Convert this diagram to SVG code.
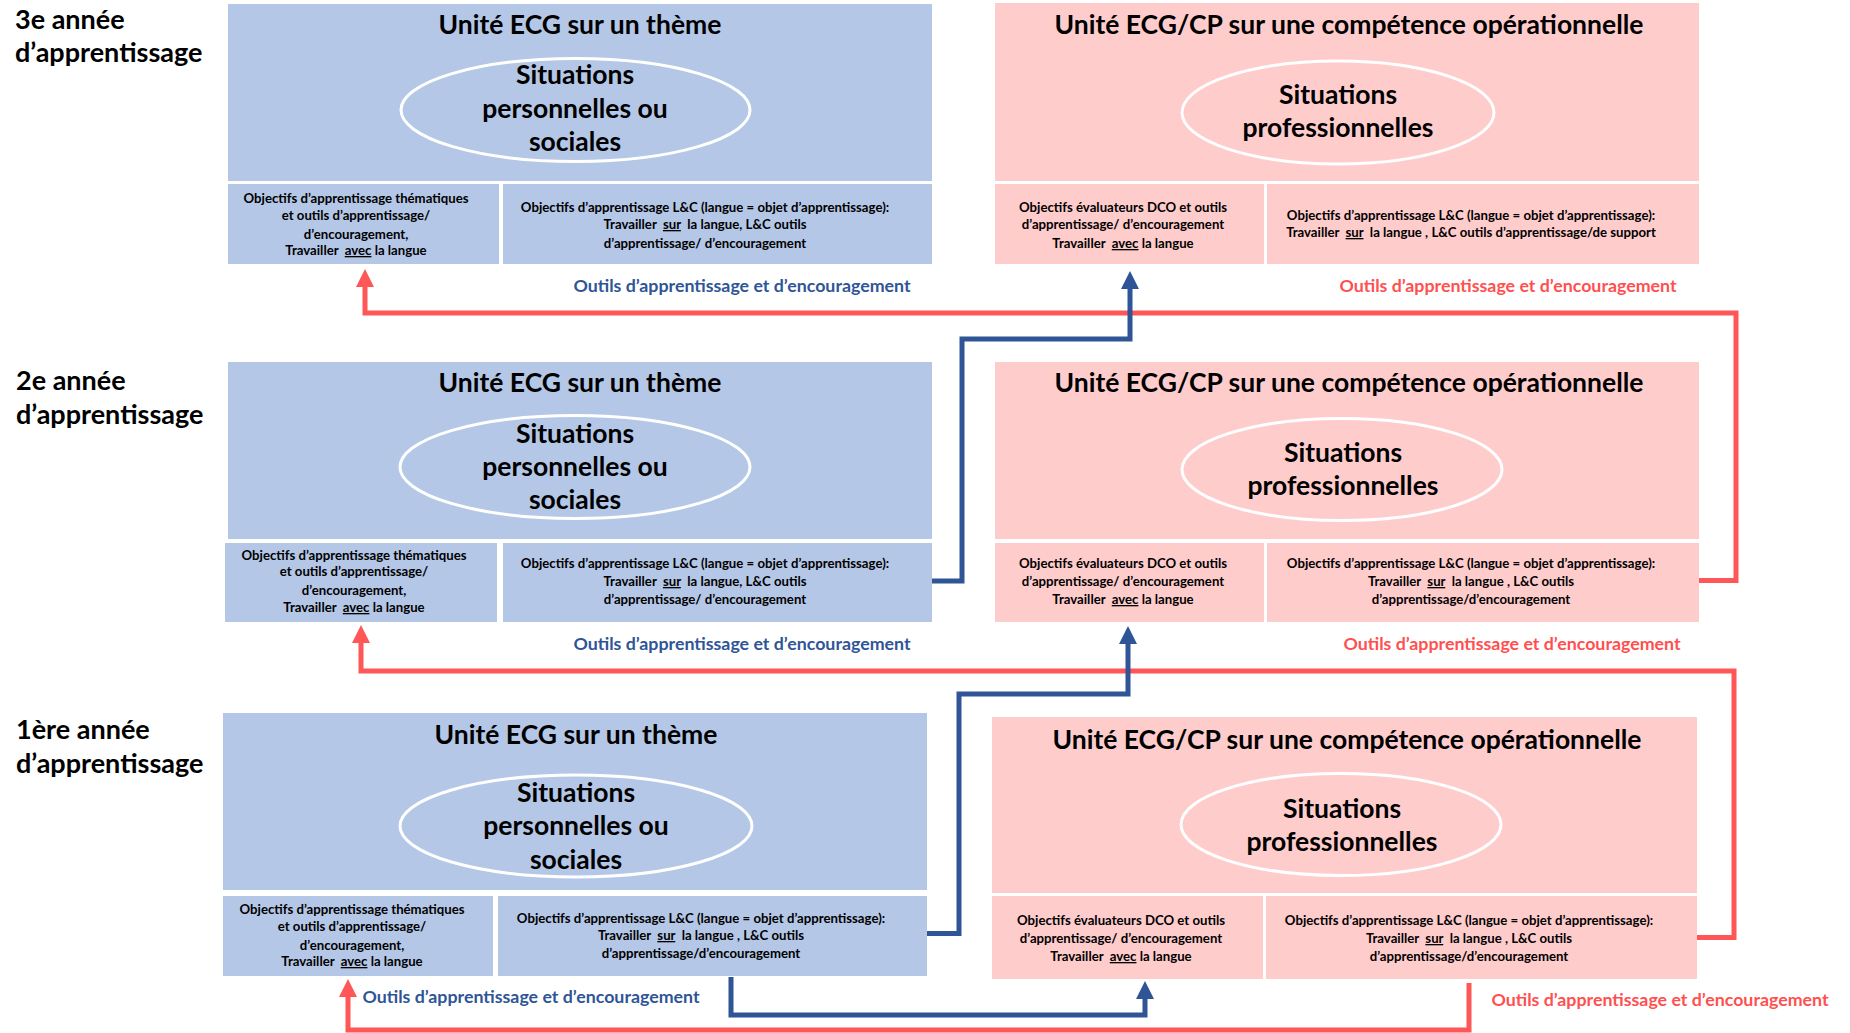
<svg xmlns="http://www.w3.org/2000/svg" width="1850" height="1033" viewBox="0 0 1850 1033">
<defs>
<style>
.bg{fill:#ffffff}
.b{fill:#b4c7e7}
.p{fill:#ffcccc}
.el{fill:none;stroke:#ffffff;stroke-width:3}
text{font-family:Lato,"Liberation Sans",sans-serif;font-weight:700;fill:#000}
.lab{font-size:27px}
.tt{font-size:26.5px;text-anchor:middle}
.et{font-size:26.5px;text-anchor:middle}
.sm{font-size:13.2px;text-anchor:middle;white-space:pre}
.ob{font-size:17.8px;text-anchor:middle;fill:#2f5597}
.or{font-size:17.8px;text-anchor:middle;fill:#ff5050}
.u{text-decoration:underline}
.cb{fill:none;stroke:#2f5597;stroke-width:5}
.cr{fill:none;stroke:#ff5757;stroke-width:5}
</style>
<marker id="ab" markerUnits="userSpaceOnUse" markerWidth="18" markerHeight="18" viewBox="0 0 17 17" refX="1" refY="8.5" orient="auto"><path d="M0,0 L17,8.5 L0,17 z" fill="#2f5597"/></marker>
<marker id="ar" markerUnits="userSpaceOnUse" markerWidth="18" markerHeight="18" viewBox="0 0 17 17" refX="1" refY="8.5" orient="auto"><path d="M0,0 L17,8.5 L0,17 z" fill="#ff5757"/></marker>
</defs>
<rect class="bg" x="0" y="0" width="1850" height="1033"/>

<g id="labels">
<text class="lab" x="15" y="29">3e année</text>
<text class="lab" x="15" y="62">d’apprentissage</text>
<text class="lab" x="16" y="390">2e année</text>
<text class="lab" x="16" y="424">d’apprentissage</text>
<text class="lab" x="16" y="739">1ère année</text>
<text class="lab" x="16" y="773">d’apprentissage</text>
</g>

<!-- Row 3 -->
<g id="ecg3">
<rect class="b" x="228" y="4" width="704" height="177"/>
<text class="tt" x="580" y="34">Unité ECG sur un thème</text>
<ellipse class="el" cx="575.5" cy="110" rx="174.5" ry="51.5"/>
<text class="et" x="575" y="84">Situations</text>
<text class="et" x="575" y="118">personnelles ou</text>
<text class="et" x="575" y="151">sociales</text>
</g>
<g id="ecg3-them">
<rect class="b" x="228" y="184" width="271" height="80"/>
<text class="sm" x="356" y="203">Objectifs d’apprentissage thématiques</text>
<text class="sm" x="356" y="220">et outils d’apprentissage/</text>
<text class="sm" x="356" y="239">d’encouragement,</text>
<text class="sm" x="356" y="255">Travailler  <tspan class="u">avec</tspan> la langue</text>
</g>
<g id="ecg3-lc">
<rect class="b" x="503" y="184" width="429" height="80"/>
<text class="sm" x="705" y="212">Objectifs d’apprentissage L&amp;C (langue = objet d’apprentissage):</text>
<text class="sm" x="705" y="229">Travailler  <tspan class="u">sur</tspan>  la langue, L&amp;C outils</text>
<text class="sm" x="705" y="248">d’apprentissage/ d’encouragement</text>
</g>
<g id="cp3">
<rect class="p" x="995" y="3" width="704" height="178"/>
<text class="tt" x="1349" y="34">Unité ECG/CP sur une compétence opérationnelle</text>
<ellipse class="el" cx="1338" cy="112.5" rx="156" ry="51.5"/>
<text class="et" x="1338" y="104">Situations</text>
<text class="et" x="1338" y="137">professionnelles</text>
</g>
<g id="cp3-dco">
<rect class="p" x="995" y="184" width="269" height="80"/>
<text class="sm" x="1123" y="212">Objectifs évaluateurs DCO et outils</text>
<text class="sm" x="1123" y="229">d’apprentissage/ d’encouragement</text>
<text class="sm" x="1123" y="248">Travailler  <tspan class="u">avec</tspan> la langue</text>
</g>
<g id="cp3-lc">
<rect class="p" x="1267" y="184" width="432" height="80"/>
<text class="sm" x="1471" y="220">Objectifs d’apprentissage L&amp;C (langue = objet d’apprentissage):</text>
<text class="sm" x="1471" y="237">Travailler  <tspan class="u">sur</tspan>  la langue , L&amp;C outils d’apprentissage/de support</text>
</g>
<g id="tools3">
<text class="ob" x="742" y="292">Outils d’apprentissage et d’encouragement</text>
<text class="or" x="1508" y="292">Outils d’apprentissage et d’encouragement</text>
</g>

<!-- Row 2 -->
<g id="ecg2">
<rect class="b" x="228" y="362" width="704" height="177"/>
<text class="tt" x="580" y="392">Unité ECG sur un thème</text>
<ellipse class="el" cx="575" cy="467" rx="175" ry="51.5"/>
<text class="et" x="575" y="443">Situations</text>
<text class="et" x="575" y="476">personnelles ou</text>
<text class="et" x="575" y="509">sociales</text>
</g>
<g id="ecg2-them">
<rect class="b" x="225" y="543" width="272" height="79"/>
<text class="sm" x="354" y="560">Objectifs d’apprentissage thématiques</text>
<text class="sm" x="354" y="576">et outils d’apprentissage/</text>
<text class="sm" x="354" y="595">d’encouragement,</text>
<text class="sm" x="354" y="612">Travailler  <tspan class="u">avec</tspan> la langue</text>
</g>
<g id="ecg2-lc">
<rect class="b" x="503" y="543" width="429" height="79"/>
<text class="sm" x="705" y="568">Objectifs d’apprentissage L&amp;C (langue = objet d’apprentissage):</text>
<text class="sm" x="705" y="586">Travailler  <tspan class="u">sur</tspan>  la langue, L&amp;C outils</text>
<text class="sm" x="705" y="604">d’apprentissage/ d’encouragement</text>
</g>
<g id="cp2">
<rect class="p" x="995" y="362" width="704" height="177"/>
<text class="tt" x="1349" y="392">Unité ECG/CP sur une compétence opérationnelle</text>
<ellipse class="el" cx="1342" cy="469.5" rx="160" ry="51"/>
<text class="et" x="1343" y="462">Situations</text>
<text class="et" x="1343" y="495">professionnelles</text>
</g>
<g id="cp2-dco">
<rect class="p" x="995" y="543" width="269" height="79"/>
<text class="sm" x="1123" y="568">Objectifs évaluateurs DCO et outils</text>
<text class="sm" x="1123" y="586">d’apprentissage/ d’encouragement</text>
<text class="sm" x="1123" y="604">Travailler  <tspan class="u">avec</tspan> la langue</text>
</g>
<g id="cp2-lc">
<rect class="p" x="1267" y="543" width="432" height="79"/>
<text class="sm" x="1471" y="568">Objectifs d’apprentissage L&amp;C (langue = objet d’apprentissage):</text>
<text class="sm" x="1471" y="586">Travailler  <tspan class="u">sur</tspan>  la langue , L&amp;C outils</text>
<text class="sm" x="1471" y="604">d’apprentissage/d’encouragement</text>
</g>
<g id="tools2">
<text class="ob" x="742" y="650">Outils d’apprentissage et d’encouragement</text>
<text class="or" x="1512" y="650">Outils d’apprentissage et d’encouragement</text>
</g>

<!-- Row 1 -->
<g id="ecg1">
<rect class="b" x="223" y="713" width="704" height="177"/>
<text class="tt" x="576" y="744">Unité ECG sur un thème</text>
<ellipse class="el" cx="576" cy="826" rx="176" ry="51"/>
<text class="et" x="576" y="802">Situations</text>
<text class="et" x="576" y="835">personnelles ou</text>
<text class="et" x="576" y="869">sociales</text>
</g>
<g id="ecg1-them">
<rect class="b" x="223" y="896" width="270" height="80"/>
<text class="sm" x="352" y="914">Objectifs d’apprentissage thématiques</text>
<text class="sm" x="352" y="931">et outils d’apprentissage/</text>
<text class="sm" x="352" y="950">d’encouragement,</text>
<text class="sm" x="352" y="966">Travailler  <tspan class="u">avec</tspan> la langue</text>
</g>
<g id="ecg1-lc">
<rect class="b" x="498" y="896" width="429" height="80"/>
<text class="sm" x="701" y="923">Objectifs d’apprentissage L&amp;C (langue = objet d’apprentissage):</text>
<text class="sm" x="701" y="940">Travailler  <tspan class="u">sur</tspan>  la langue , L&amp;C outils</text>
<text class="sm" x="701" y="958">d’apprentissage/d’encouragement</text>
</g>
<g id="cp1">
<rect class="p" x="992" y="717" width="705" height="176"/>
<text class="tt" x="1347" y="749">Unité ECG/CP sur une compétence opérationnelle</text>
<ellipse class="el" cx="1341" cy="824.5" rx="160" ry="51"/>
<text class="et" x="1342" y="818">Situations</text>
<text class="et" x="1342" y="851">professionnelles</text>
</g>
<g id="cp1-dco">
<rect class="p" x="992" y="896" width="271" height="83"/>
<text class="sm" x="1121" y="925">Objectifs évaluateurs DCO et outils</text>
<text class="sm" x="1121" y="943">d’apprentissage/ d’encouragement</text>
<text class="sm" x="1121" y="961">Travailler  <tspan class="u">avec</tspan> la langue</text>
</g>
<g id="cp1-lc">
<rect class="p" x="1266" y="896" width="431" height="83"/>
<text class="sm" x="1469" y="925">Objectifs d’apprentissage L&amp;C (langue = objet d’apprentissage):</text>
<text class="sm" x="1469" y="943">Travailler  <tspan class="u">sur</tspan>  la langue , L&amp;C outils</text>
<text class="sm" x="1469" y="961">d’apprentissage/d’encouragement</text>
</g>
<g id="tools1">
<text class="ob" x="531" y="1003">Outils d’apprentissage et d’encouragement</text>
<text class="or" x="1660" y="1006">Outils d’apprentissage et d’encouragement</text>
</g>

<g id="connectors">
<path class="cr" d="M1699,580.5 H1736 V313 H365 V286" marker-end="url(#ar)"/>
<path class="cb" d="M932,581 H962 V339 H1130 V288" marker-end="url(#ab)"/>
<path class="cr" d="M1697,937.5 H1734 V671 H361 V642" marker-end="url(#ar)"/>
<path class="cb" d="M927,933.5 H959 V694 H1128 V643" marker-end="url(#ab)"/>
<path class="cb" d="M731,977 V1015 H1145 V998" marker-end="url(#ab)"/>
<path class="cr" d="M1469,983 V1030 H348 V996" marker-end="url(#ar)"/>
</g>
</svg>
